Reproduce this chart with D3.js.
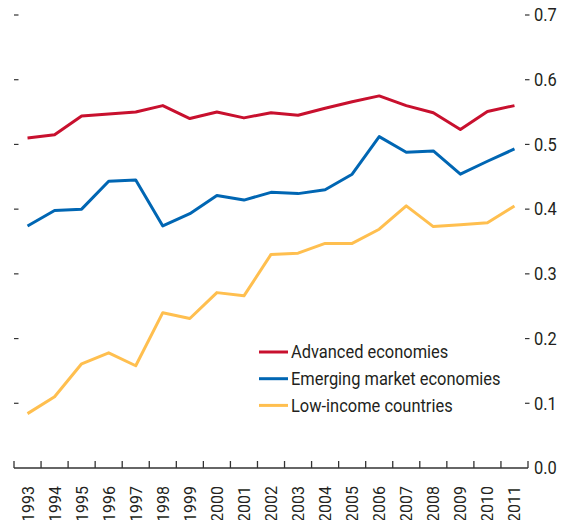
<!DOCTYPE html>
<html>
<head>
<meta charset="utf-8">
<script src="https://cdn.jsdelivr.net/npm/d3@7"></script>
<style>
  body { margin: 0; background: #fff; }
  svg { display: block; font-family: "Liberation Sans Narrow", "Arial Narrow", "Roboto", sans-serif; }
</style>
</head>
<body>
<svg id="chart"></svg>
<script>
const years = ['1993','1994','1995','1996','1997','1998','1999','2000','2001','2002',
  '2003','2004','2005','2006','2007','2008','2009','2010','2011'];

const advanced = [0.510, 0.515, 0.544, 0.547, 0.550, 0.560, 0.540, 0.550, 0.541, 0.549,
  0.545, 0.556, 0.566, 0.575, 0.560, 0.549, 0.523, 0.551, 0.560];
const emerging = [0.374, 0.398, 0.400, 0.443, 0.445, 0.374, 0.393, 0.421, 0.414, 0.426,
  0.424, 0.430, 0.454, 0.512, 0.488, 0.490, 0.454, 0.474, 0.493];
const lowIncome = [0.084, 0.110, 0.161, 0.178, 0.158, 0.240, 0.231, 0.271, 0.266, 0.330,
  0.332, 0.347, 0.347, 0.369, 0.405, 0.373, 0.376, 0.379, 0.405];

const seriesNames = ['Advanced economies', 'Emerging market economies', 'Low-income countries'];
const seriesColors = ['#c8102e', '#0066b3', '#ffbf4f'];
const yTicks = [0, 0.1, 0.2, 0.3, 0.4, 0.5, 0.6, 0.7];

const width = 567, height = 520;
const svg = d3.select('#chart').attr('width', width).attr('height', height);

const x = d3.scaleBand().domain(years).range([14, 528]);
const y = d3.scaleLinear().domain([0, 0.7]).range([468, 15]);

// left dashes (no labels)
svg.append('g').selectAll('line').data(yTicks.filter(d => d > 0)).join('line')
  .attr('x1', 14).attr('x2', 18.5)
  .attr('y1', d => y(d)).attr('y2', d => y(d))
  .attr('stroke', '#333').attr('stroke-width', 1.2);

// right axis: dash + label
const rightG = svg.append('g');
rightG.selectAll('line').data(yTicks.filter(d => d > 0)).join('line')
  .attr('x1', 525).attr('x2', 529.5)
  .attr('y1', d => y(d)).attr('y2', d => y(d))
  .attr('stroke', '#333').attr('stroke-width', 1.2);
rightG.selectAll('text').data(yTicks).join('text')
  .attr('transform', d => `translate(534,${y(d)}) scale(0.94,1)`)
  .attr('dy', '0.36em')
  .attr('font-size', 17.5).attr('fill', '#231f20')
  .text(d3.format('.1f'));

// bottom axis
const xAxis = svg.append('g');
xAxis.append('line')
  .attr('x1', x.range()[0]).attr('x2', x.range()[1])
  .attr('y1', y(0)).attr('y2', y(0))
  .attr('stroke', '#333').attr('stroke-width', 1.3);
const tickPos = years.map(d => x(d)).concat([x.range()[1]]);
xAxis.selectAll('line.tick').data(tickPos).join('line').attr('class', 'tick')
  .attr('x1', d => d).attr('x2', d => d)
  .attr('y1', y(0)).attr('y2', y(0) - 7)
  .attr('stroke', '#333').attr('stroke-width', 1.3);
xAxis.selectAll('text').data(years).join('text')
  .attr('transform', d => `translate(${x(d) + x.bandwidth() / 2 + 6},486) rotate(-90) scale(0.94,1)`)
  .attr('text-anchor', 'end')
  .attr('font-size', 17).attr('fill', '#231f20')
  .text(d => d);

// lines
const line = d3.line()
  .x((d, i) => x(years[i]) + x.bandwidth() / 2)
  .y(d => y(d));
[advanced, emerging, lowIncome].forEach((vals, i) => {
  svg.append('path').datum(vals)
    .attr('d', line)
    .attr('fill', 'none')
    .attr('stroke', seriesColors[i])
    .attr('stroke-width', 3)
    .attr('stroke-linejoin', 'round');
});

// legend
const legend = svg.append('g').attr('transform', 'translate(259,352)');
seriesNames.forEach((name, i) => {
  const row = legend.append('g').attr('transform', `translate(0,${i * 26.7})`);
  row.append('line').attr('x1', 0).attr('x2', 29)
    .attr('stroke', seriesColors[i]).attr('stroke-width', 3);
  row.append('text').attr('transform', 'translate(32,0) scale(0.94,1)').attr('dy', '0.36em')
    .attr('font-size', 17.5).attr('fill', '#231f20')
    .text(name);
});
</script>
</body>
</html>
